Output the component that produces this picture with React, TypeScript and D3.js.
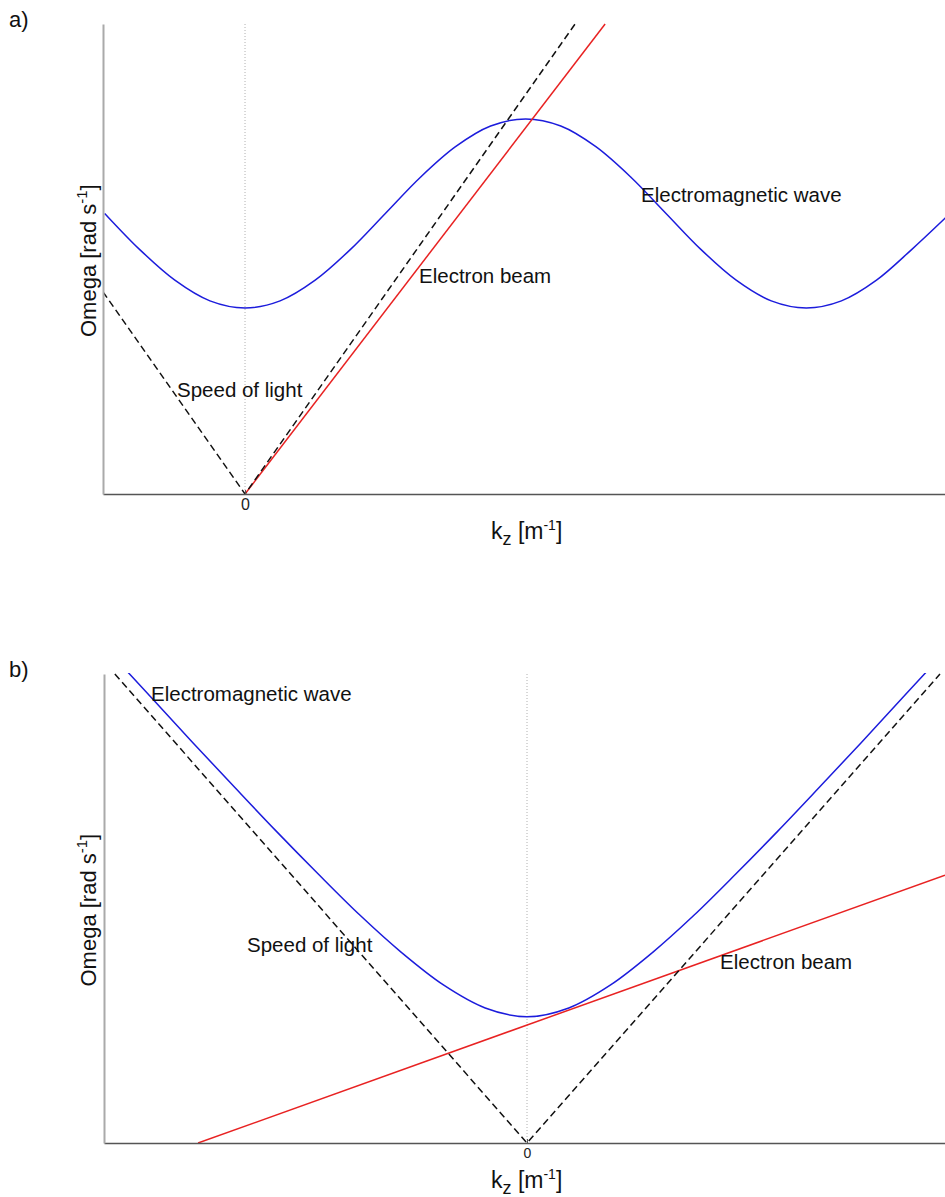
import { useRef, useEffect } from 'react'
import { select, scaleLinear, axisBottom, axisLeft, line, curveCatmullRom, curveLinear } from 'd3'

const FONT = '"Liberation Sans", Arial, Helvetica, sans-serif'

// panel a) periodic band
const bandK = [-0.5, -0.375, -0.25, -0.125, 0, 0.125, 0.25, 0.375, 0.5, 0.625, 0.75, 0.875, 1, 1.125, 1.25, 1.375, 1.5, 1.625, 1.75, 1.875, 2, 2.125, 2.25, 2.375, 2.5]
const bandOmega = [0.597, 0.52, 0.455, 0.411, 0.396, 0.411, 0.455, 0.52, 0.597, 0.674, 0.739, 0.783, 0.798, 0.783, 0.739, 0.674, 0.597, 0.52, 0.455, 0.411, 0.396, 0.411, 0.455, 0.52, 0.59]
const beamKA = [0, 1.283]
const beamOmegaA = [0, 1]
const lightKA = [-0.506, 0, 1.176]
const lightOmegaA = [0.43, 0, 1]

// panel b) free space
const emK = [-0.955, -0.9, -0.8, -0.7, -0.6, -0.5, -0.4, -0.3, -0.2, -0.1, 0, 0.1, 0.2, 0.3, 0.4, 0.5, 0.6, 0.7, 0.8, 0.9, 0.955]
const emOmega = [1.004, 0.951, 0.854, 0.759, 0.665, 0.574, 0.486, 0.406, 0.337, 0.288, 0.269, 0.288, 0.337, 0.406, 0.486, 0.574, 0.665, 0.759, 0.854, 0.951, 1.004]
const beamKB = [-0.787, 1.0]
const beamOmegaB = [0, 0.571]
const lightKB = [-0.986, 0, 0.988]
const lightOmegaB = [1, 0, 1]

const tickLabels = ['0']
const labelEM = 'Electromagnetic wave'
const labelBeam = 'Electron beam'
const labelLight = 'Speed of light'

const zip = (xs, ys) => xs.map((x, i) => [x, ys[i]])

const Panel = ({ id, tag, top, bottom, left, right, xDomain, tickFont, series, notes }) => {
  const gRef = useRef(null)

  useEffect(() => {
    const g = select(gRef.current)
    g.selectAll('*').remove()

    const xScale = scaleLinear().domain(xDomain).range([left, right])
    const yScale = scaleLinear().domain([0, 1]).range([bottom, top])

    g.append('clipPath').attr('id', 'clip-' + id)
      .append('rect').attr('x', left).attr('y', top - 1).attr('width', right - left).attr('height', bottom - top + 1)

    // dotted zero line
    g.append('line')
      .attr('x1', xScale(0)).attr('x2', xScale(0))
      .attr('y1', top).attr('y2', bottom)
      .attr('stroke', '#b0b0b0').attr('stroke-width', 1).attr('stroke-dasharray', '1,2')

    const content = g.append('g').attr('clip-path', `url(#clip-${id})`)
    const myLine = line().x(d => xScale(d[0])).y(d => yScale(d[1]))

    series.forEach(s => {
      content.append('path')
        .attr('d', myLine.curve(s.smooth ? curveCatmullRom : curveLinear)(s.points))
        .attr('fill', 'none')
        .attr('stroke', s.color)
        .attr('stroke-width', 1.5)
        .attr('stroke-dasharray', s.dash || null)
    })

    const xAxis = axisBottom(xScale).tickValues([0]).tickFormat((d, i) => tickLabels[i]).tickSizeInner(-4).tickSizeOuter(0).tickPadding(5)
    const xg = g.append('g').attr('transform', `translate(0,${bottom})`).call(xAxis)
    xg.select('.domain').attr('stroke', '#555').attr('stroke-width', 1.5)
    xg.selectAll('line').attr('stroke', '#555')
    xg.selectAll('text').attr('font-family', FONT).attr('font-size', tickFont).attr('fill', '#222')

    const yAxis = axisLeft(yScale).tickValues([]).tickSizeOuter(0)
    const yg = g.append('g').attr('transform', `translate(${left},0)`).call(yAxis)
    yg.select('.domain').attr('stroke', '#aaa').attr('stroke-width', 2)

    notes.forEach(n => {
      g.append('text').attr('x', n.x).attr('y', n.y)
        .attr('font-family', FONT).attr('font-size', 20.5).attr('fill', '#111')
        .text(n.text)
    })

    // axis titles
    const xt = g.append('text').attr('x', 491).attr('y', bottom + 45)
      .attr('font-family', FONT).attr('font-size', 23).attr('fill', '#111')
    xt.append('tspan').text('k')
    xt.append('tspan').attr('font-size', 18).attr('dy', 6).text('z')
    xt.append('tspan').attr('dy', -6).text(' [m')
    xt.append('tspan').attr('font-size', 14).attr('dy', -9).text('-1')
    xt.append('tspan').attr('dy', 9).text(']')

    const yc = (top + bottom) / 2
    const yt = g.append('text')
      .attr('transform', `translate(96,${yc + 78}) rotate(-90)`)
      .attr('font-family', FONT).attr('font-size', 22).attr('fill', '#111')
    yt.append('tspan').text('Omega [rad s')
    yt.append('tspan').attr('font-size', 15).attr('dy', -9).text('-1')
    yt.append('tspan').attr('dy', 9).text(']')

    g.append('text').attr('x', 9).attr('y', top + 3)
      .attr('font-family', FONT).attr('font-size', 22).attr('fill', '#111').text(tag)
  }, [])

  return <g ref={gRef} />
}

export default function App() {
  const seriesA = [
    { points: zip(bandK, bandOmega), color: '#1c1cdc', smooth: true },
    { points: zip(beamKA, beamOmegaA), color: '#e82222' },
    { points: zip(lightKA, lightOmegaA), color: '#111', dash: '7,4' },
  ]
  const seriesB = [
    { points: zip(emK, emOmega), color: '#1c1cdc', smooth: true },
    { points: zip(beamKB, beamOmegaB), color: '#e82222' },
    { points: zip(lightKB, lightOmegaB), color: '#111', dash: '7,4' },
  ]
  const notesA = [
    { text: labelEM, x: 641, y: 202 },
    { text: labelBeam, x: 419, y: 283 },
    { text: labelLight, x: 177, y: 397 },
  ]
  const notesB = [
    { text: labelEM, x: 151, y: 701 },
    { text: labelLight, x: 247, y: 952 },
    { text: labelBeam, x: 720, y: 969 },
  ]
  return (
    <svg width={945} height={1197} style={{ position: 'absolute', left: 0, top: 0, background: '#fff' }}>
      <Panel id="a" tag="a)" top={24} bottom={494} left={103} right={945} xDomain={[-0.506, 2.494]} tickFont={16} series={seriesA} notes={notesA} />
      <Panel id="b" tag="b)" top={674} bottom={1143} left={104} right={945} xDomain={[-1.012, 1.0]} tickFont={14} series={seriesB} notes={notesB} />
    </svg>
  )
}
